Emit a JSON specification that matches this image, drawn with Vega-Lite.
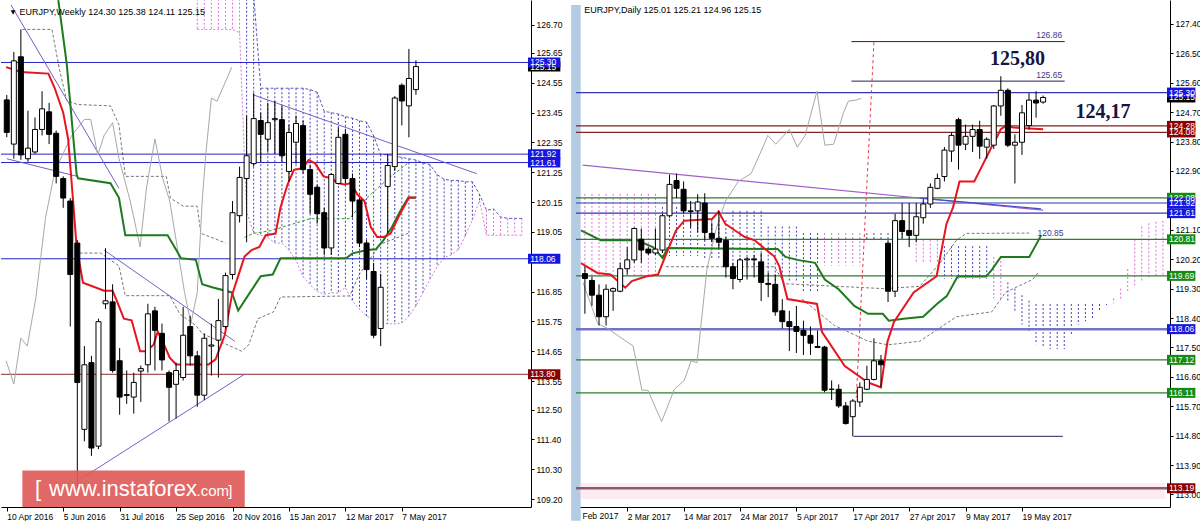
{
"$schema":"https://vega.github.io/schema/vega-lite/v6.json",
"background":"white","padding":0,"bounds":"flush","spacing":45,
"config":{"view":{"stroke":null},
"axis":{"labelFont":"Liberation Sans","labelFontSize":8.5,"labelColor":"#000","domainColor":"#000","tickColor":"#000","grid":false},
"axisX":{"tickSize":4,"labelAlign":"left","labelPadding":1,"labelOverlap":false,"labelFlush":false},
"axisY":{"tickSize":3,"labelPadding":2,"labelOverlap":false,"labelFlush":false}},
"datasets":{
"wk":[{"t":0,"o":123.92,"h":124.10,"l":122.54,"c":122.72},{"t":1,"o":122.29,"h":125.69,"l":121.75,"c":125.36},{"t":2,"o":125.51,"h":126.52,"l":121.71,"c":121.89},{"t":3,"o":121.75,"h":123.52,"l":121.64,"c":122.14},{"t":4,"o":122.00,"h":123.27,"l":121.93,"c":122.83},{"t":5,"o":122.83,"h":124.24,"l":122.61,"c":123.59},{"t":6,"o":123.48,"h":123.81,"l":122.29,"c":122.65},{"t":7,"o":122.69,"h":122.79,"l":120.84,"c":121.10},{"t":8,"o":121.02,"h":121.10,"l":119.94,"c":120.30},{"t":9,"o":120.19,"h":120.30,"l":115.56,"c":117.48},{"t":10,"o":118.64,"h":118.75,"l":109.60,"c":113.50},{"t":11,"o":111.77,"h":114.84,"l":111.33,"c":114.15},{"t":12,"o":114.23,"h":114.48,"l":110.79,"c":111.08},{"t":13,"o":111.15,"h":115.85,"l":111.04,"c":115.74},{"t":14,"o":116.40,"h":118.45,"l":116.21,"c":116.51},{"t":15,"o":116.47,"h":117.12,"l":113.86,"c":113.94},{"t":16,"o":114.30,"h":114.77,"l":112.31,"c":112.96},{"t":17,"o":113.05,"h":113.94,"l":112.71,"c":113.02},{"t":18,"o":112.96,"h":113.86,"l":112.35,"c":113.50},{"t":19,"o":113.92,"h":114.12,"l":112.78,"c":114.01},{"t":20,"o":114.15,"h":116.40,"l":113.86,"c":116.03},{"t":21,"o":116.14,"h":116.29,"l":113.94,"c":115.42},{"t":22,"o":115.31,"h":115.67,"l":113.94,"c":114.33},{"t":23,"o":113.86,"h":113.94,"l":112.06,"c":113.32},{"t":24,"o":113.43,"h":114.23,"l":112.17,"c":113.94},{"t":25,"o":113.68,"h":116.29,"l":113.57,"c":115.24},{"t":26,"o":115.56,"h":115.96,"l":114.12,"c":114.48},{"t":27,"o":114.48,"h":114.66,"l":112.60,"c":113.03},{"t":28,"o":113.03,"h":115.31,"l":112.85,"c":115.13},{"t":29,"o":114.84,"h":115.67,"l":113.75,"c":114.88},{"t":30,"o":115.06,"h":116.58,"l":113.68,"c":115.78},{"t":31,"o":115.56,"h":117.55,"l":115.49,"c":117.44},{"t":32,"o":117.48,"h":120.19,"l":117.30,"c":119.76},{"t":33,"o":119.65,"h":121.46,"l":119.40,"c":121.06},{"t":34,"o":121.02,"h":123.34,"l":118.67,"c":121.86},{"t":35,"o":121.57,"h":124.17,"l":121.46,"c":123.23},{"t":36,"o":123.16,"h":123.45,"l":121.64,"c":122.65},{"t":37,"o":122.47,"h":123.81,"l":122.00,"c":123.08},{"t":38,"o":123.19,"h":123.88,"l":121.93,"c":123.23},{"t":39,"o":123.19,"h":123.70,"l":121.64,"c":121.86},{"t":40,"o":121.28,"h":123.01,"l":120.91,"c":122.72},{"t":41,"o":122.36,"h":123.34,"l":121.57,"c":123.05},{"t":42,"o":122.97,"h":123.16,"l":121.20,"c":121.35},{"t":43,"o":121.35,"h":121.53,"l":119.72,"c":120.44},{"t":44,"o":120.70,"h":120.80,"l":119.36,"c":119.72},{"t":45,"o":119.76,"h":119.94,"l":118.20,"c":118.46},{"t":46,"o":118.46,"h":121.21,"l":118.20,"c":121.17},{"t":47,"o":120.84,"h":122.90,"l":120.80,"c":122.54},{"t":48,"o":122.65,"h":122.83,"l":120.84,"c":121.02},{"t":49,"o":121.02,"h":121.21,"l":119.58,"c":120.19},{"t":50,"o":120.23,"h":120.30,"l":118.49,"c":118.64},{"t":51,"o":118.64,"h":118.75,"l":117.30,"c":117.66},{"t":52,"o":117.59,"h":117.91,"l":115.13,"c":115.24},{"t":53,"o":115.49,"h":117.50,"l":114.84,"c":117.01},{"t":54,"o":120.73,"h":121.93,"l":119.00,"c":121.50},{"t":55,"o":121.46,"h":124.06,"l":121.30,"c":123.99},{"t":56,"o":124.46,"h":124.53,"l":122.98,"c":123.88},{"t":57,"o":123.70,"h":125.80,"l":122.54,"c":124.71},{"t":58,"o":124.30,"h":125.38,"l":124.11,"c":125.15}],
"wten":[{"t":-0.1,"v":125.13},{"t":2,"v":124.95},{"t":5.9,"v":124.89},{"t":6.8,"v":124.35},{"t":8,"v":123.45},{"t":8.7,"v":122.48},{"t":9.4,"v":120.19},{"t":9.9,"v":118.50},{"t":10.8,"v":117.18},{"t":13.8,"v":116.88},{"t":15,"v":116.88},{"t":15.6,"v":116.51},{"t":16.6,"v":115.85},{"t":17.7,"v":115.79},{"t":18.9,"v":114.65},{"t":19.8,"v":114.65},{"t":20.8,"v":114.89},{"t":21.4,"v":115.37},{"t":22.1,"v":115.01},{"t":23.1,"v":114.41},{"t":24,"v":114.16},{"t":28.6,"v":114.16},{"t":29.6,"v":114.35},{"t":30.9,"v":115.25},{"t":31.9,"v":116.70},{"t":32.8,"v":117.42},{"t":33.7,"v":118.14},{"t":34.7,"v":118.38},{"t":35.8,"v":118.50},{"t":36.7,"v":118.93},{"t":38.1,"v":118.99},{"t":38.8,"v":119.95},{"t":39.8,"v":120.80},{"t":40.7,"v":121.34},{"t":41.9,"v":121.40},{"t":42.8,"v":121.70},{"t":43.7,"v":121.58},{"t":44.9,"v":121.10},{"t":46.0,"v":121.03},{"t":46.9,"v":120.85},{"t":47.9,"v":120.80},{"t":48.8,"v":120.85},{"t":49.7,"v":120.43},{"t":50.7,"v":120.19},{"t":51.6,"v":119.23},{"t":52.5,"v":118.86},{"t":53.4,"v":118.86},{"t":54.4,"v":118.99},{"t":55.5,"v":119.59},{"t":57,"v":120.32},{"t":58,"v":120.32}],
"wkij":[{"t":7.3,"v":127.6},{"t":8.5,"v":125.25},{"t":9.2,"v":123.19},{"t":9.9,"v":121.17},{"t":10.1,"v":121.03},{"t":14.7,"v":120.85},{"t":15.9,"v":120.31},{"t":16.8,"v":118.93},{"t":22.8,"v":118.93},{"t":24.7,"v":118.08},{"t":26.8,"v":118.02},{"t":27.7,"v":117.12},{"t":29.1,"v":117.01},{"t":31.9,"v":116.82},{"t":32.8,"v":116.15},{"t":36.0,"v":117.42},{"t":37.7,"v":117.48},{"t":38.8,"v":118.08},{"t":48.1,"v":118.08},{"t":49.0,"v":118.26},{"t":51.1,"v":118.38},{"t":52.3,"v":118.41},{"t":53.4,"v":118.75},{"t":54.6,"v":119.23},{"t":55.8,"v":119.83},{"t":56.9,"v":120.31},{"t":58,"v":120.31}],
"wchi":[{"t":-0.1,"v":114.30},{"t":1.0,"v":113.44},{"t":2.0,"v":115.13},{"t":2.9,"v":114.84},{"t":4.1,"v":116.58},{"t":5.5,"v":119.58},{"t":6.8,"v":121.28},{"t":9.2,"v":122.61},{"t":11.0,"v":123.20},{"t":11.9,"v":123.20},{"t":12.9,"v":121.89},{"t":13.8,"v":122.61},{"t":15.0,"v":123.08},{"t":15.9,"v":121.76},{"t":17.5,"v":120.19},{"t":18.9,"v":118.50},{"t":19.8,"v":120.67},{"t":21.0,"v":122.48},{"t":22.1,"v":121.03},{"t":23.1,"v":120.19},{"t":24.0,"v":118.75},{"t":25.2,"v":116.82},{"t":26.1,"v":115.67},{"t":27.0,"v":116.82},{"t":27.7,"v":120.19},{"t":28.2,"v":121.88},{"t":29.0,"v":123.99},{"t":29.8,"v":123.87},{"t":31.9,"v":125.13}],
"wdash":[{"t":2.2,"v":126.52,"s":"a"},{"t":6.4,"v":126.52,"s":"a"},{"t":7.5,"v":125.0,"s":"a"},{"t":8.5,"v":123.9,"s":"a"},{"t":10.0,"v":123.75,"s":"a"},{"t":14.7,"v":123.7,"s":"a"},{"t":15.9,"v":123.0,"s":"a"},{"t":16.8,"v":121.1,"s":"a"},{"t":22.6,"v":121.1,"s":"a"},{"t":23.2,"v":120.3,"s":"a"},{"t":25,"v":120.0,"s":"a"},{"t":27,"v":120.0,"s":"a"},{"t":27.5,"v":119.0,"s":"a"},{"t":29.5,"v":118.8,"s":"a"},{"t":31,"v":118.64,"s":"a"},
{"t":10.3,"v":118.27,"s":"b"},{"t":13.3,"v":118.27,"s":"b"},{"t":15.9,"v":117.8,"s":"b"},{"t":16.8,"v":116.7,"s":"b"},{"t":23.1,"v":116.7,"s":"b"},{"t":24.5,"v":116.03,"s":"b"},{"t":26.8,"v":115.6,"s":"b"},{"t":27.7,"v":115.3,"s":"b"},{"t":32.3,"v":114.77,"s":"b"},{"t":33.3,"v":114.65,"s":"b"},{"t":34.3,"v":114.89,"s":"b"},{"t":35.6,"v":115.85,"s":"b"},{"t":37.8,"v":116.1,"s":"b"},{"t":38.8,"v":116.65,"s":"b"},{"t":48.6,"v":116.69,"s":"b"},{"t":50,"v":117.5,"s":"b"},{"t":53,"v":118.6,"s":"b"},{"t":56.9,"v":119.0,"s":"b"},
{"t":33.7,"v":118.85,"s":"g"},{"t":35,"v":119.0,"s":"g"},{"t":37.5,"v":119.1,"s":"g"},{"t":43,"v":119.54,"s":"g"},{"t":48.6,"v":119.54,"s":"g"},{"t":51,"v":120.3,"s":"g"},{"t":54,"v":121.0,"s":"g"},{"t":56.9,"v":121.6,"s":"g"}],
"wcl":[{"t":27,"u":127.8,"lo":126.52,"k":"bear"},{"t":28,"u":127.8,"lo":126.52,"k":"bear"},{"t":29,"u":127.8,"lo":126.52,"k":"bear"},{"t":30,"u":127.8,"lo":126.52,"k":"bear"},{"t":31,"u":127.8,"lo":126.52,"k":"bear"},{"t":32,"u":127.8,"lo":126.52,"k":"bear"},{"t":33,"u":127.8,"lo":126.40,"k":"bear"},{"t":34,"u":127.8,"lo":119.8,"k":"bull"},{"t":35,"u":127.8,"lo":119.0,"k":"bull"},{"t":36,"u":124.35,"lo":118.93,"k":"bull"},{"t":37,"u":124.35,"lo":118.85,"k":"bull"},{"t":38,"u":124.35,"lo":118.64,"k":"bull"},{"t":39,"u":124.35,"lo":118.64,"k":"bull"},{"t":40,"u":124.35,"lo":118.38,"k":"bull"},{"t":41,"u":124.35,"lo":118.0,"k":"bull"},{"t":42,"u":124.35,"lo":117.4,"k":"bull"},{"t":43,"u":124.3,"lo":117.1,"k":"bull"},{"t":44,"u":124.2,"lo":116.85,"k":"bull"},{"t":45,"u":123.5,"lo":116.75,"k":"bull"},{"t":46,"u":123.45,"lo":116.8,"k":"bull"},{"t":47,"u":123.4,"lo":116.8,"k":"bull"},{"t":48,"u":123.3,"lo":117.0,"k":"bull"},{"t":49,"u":123.25,"lo":116.5,"k":"bull"},{"t":50,"u":123.15,"lo":116.2,"k":"bull"},{"t":51,"u":123.1,"lo":115.95,"k":"bull"},{"t":52,"u":122.6,"lo":115.8,"k":"bull"},{"t":53,"u":121.9,"lo":115.7,"k":"bull"},{"t":54,"u":121.9,"lo":115.66,"k":"bull"},{"t":55,"u":121.85,"lo":115.66,"k":"bull"},{"t":56,"u":121.8,"lo":115.7,"k":"bull"},{"t":57,"u":121.75,"lo":115.95,"k":"bull"},{"t":58,"u":121.7,"lo":116.32,"k":"bull"},{"t":59,"u":121.6,"lo":116.82,"k":"bull"},{"t":60,"u":121.53,"lo":117.3,"k":"bull"},{"t":61,"u":121.17,"lo":117.77,"k":"bull"},{"t":62,"u":120.99,"lo":118.1,"k":"bull"},{"t":63,"u":120.95,"lo":118.2,"k":"bull"},{"t":64,"u":120.95,"lo":118.4,"k":"bull"},{"t":65,"u":120.9,"lo":118.9,"k":"bull"},{"t":66,"u":120.9,"lo":119.5,"k":"bull"},{"t":67,"u":120.44,"lo":120.2,"k":"bull"},{"t":68,"u":119.85,"lo":118.93,"k":"bear"},{"t":69,"u":119.9,"lo":118.93,"k":"bear"},{"t":70,"u":119.6,"lo":118.93,"k":"bear"},{"t":71,"u":119.55,"lo":118.93,"k":"bear"},{"t":72,"u":119.55,"lo":118.93,"k":"bear"},{"t":73,"u":119.55,"lo":118.93,"k":"bear"}],
"wlev":[{"v":125.30,"k":"blue"},{"v":121.92,"k":"blue"},{"v":121.61,"k":"blue"},{"v":118.06,"k":"blue"},{"v":113.80,"k":"maroon"}],
"wtr":[{"t1":0.6,"v1":127.42,"t2":15.9,"v2":120.66},{"t1":0,"v1":121.75,"t2":10.0,"v2":121.10},{"t1":13.8,"v1":118.38,"t2":32.3,"v2":115.02},{"t1":10.6,"v1":109.96,"t2":33.7,"v2":113.80},{"t1":34.9,"v1":124.11,"t2":66.6,"v2":121.20}],
"wlab":[{"v":125.15,"s":"125.15","k":"black"},{"v":125.30,"s":"125.30","k":"blue"},{"v":121.92,"s":"121.92","k":"blue"},{"v":121.61,"s":"121.61","k":"blue"},{"v":118.06,"s":"118.06","k":"blue"},{"v":113.80,"s":"113.80","k":"maroon"}],
"wtitle":[{"t":1.8,"v":127.17,"s":"EURJPY,Weekly  124.30 125.38 124.11 125.15"}],
"wmark":[{"t":0.55,"v":127.17,"s":"▼"}],
"logoBig":[{"t":4.0,"v":109.31,"s":"["},{"t":6.0,"v":109.31,"s":"www.instaforex"}],
"logoSmall":[{"t":26.9,"v":109.31,"s":".com"},{"t":31.4,"v":109.31,"s":"]"}],
"dk":[{"t":-6,"o":119.76,"h":119.97,"l":118.53,"c":119.61},{"t":-5,"o":119.55,"h":119.67,"l":118.77,"c":119.10},{"t":-4,"o":119.10,"h":119.43,"l":118.17,"c":118.44},{"t":-3,"o":118.44,"h":119.43,"l":118.17,"c":119.28},{"t":-2,"o":119.22,"h":119.34,"l":118.62,"c":119.30},{"t":-1,"o":119.22,"h":120.09,"l":119.19,"c":119.91},{"t":0,"o":119.91,"h":120.57,"l":119.73,"c":120.18},{"t":1,"o":120.18,"h":121.17,"l":120.09,"c":121.14},{"t":2,"o":120.81,"h":121.14,"l":120.09,"c":120.48},{"t":3,"o":120.51,"h":120.57,"l":120.33,"c":120.39},{"t":4,"o":120.39,"h":121.14,"l":120.33,"c":120.51},{"t":5,"o":120.48,"h":121.59,"l":120.39,"c":121.53},{"t":6,"o":121.53,"h":122.79,"l":121.47,"c":122.49},{"t":7,"o":122.61,"h":122.82,"l":122.07,"c":122.37},{"t":8,"o":122.34,"h":122.58,"l":121.59,"c":121.68},{"t":9,"o":121.68,"h":121.98,"l":121.17,"c":121.66},{"t":10,"o":121.68,"h":122.19,"l":121.02,"c":121.95},{"t":11,"o":121.92,"h":122.22,"l":120.78,"c":121.02},{"t":12,"o":120.99,"h":121.32,"l":120.72,"c":120.84},{"t":13,"o":120.84,"h":121.68,"l":120.54,"c":120.72},{"t":14,"o":120.78,"h":120.87,"l":119.64,"c":119.97},{"t":15,"o":119.97,"h":120.09,"l":119.28,"c":119.61},{"t":16,"o":119.58,"h":120.24,"l":119.49,"c":120.18},{"t":17,"o":120.18,"h":120.27,"l":119.58,"c":120.21},{"t":18,"o":120.21,"h":120.33,"l":119.64,"c":120.18},{"t":19,"o":120.12,"h":120.39,"l":118.92,"c":119.49},{"t":20,"o":119.46,"h":119.79,"l":119.04,"c":119.43},{"t":21,"o":119.43,"h":119.73,"l":118.47,"c":118.59},{"t":22,"o":118.62,"h":118.98,"l":118.08,"c":118.29},{"t":23,"o":118.29,"h":118.62,"l":117.39,"c":118.14},{"t":24,"o":118.14,"h":118.77,"l":117.33,"c":117.99},{"t":25,"o":118.02,"h":118.32,"l":117.27,"c":117.87},{"t":26,"o":117.87,"h":118.14,"l":117.27,"c":117.63},{"t":27,"o":117.53,"h":118.02,"l":117.48,"c":117.50},{"t":28,"o":117.51,"h":117.55,"l":116.13,"c":116.19},{"t":29,"o":116.22,"h":116.49,"l":115.89,"c":116.22},{"t":30,"o":116.22,"h":116.37,"l":115.65,"c":115.71},{"t":31,"o":115.71,"h":115.83,"l":115.14,"c":115.17},{"t":32,"o":115.38,"h":115.92,"l":114.78,"c":115.86},{"t":33,"o":115.83,"h":116.43,"l":115.68,"c":116.28},{"t":34,"o":116.22,"h":116.94,"l":116.19,"c":116.52},{"t":35,"o":116.52,"h":117.78,"l":116.49,"c":117.09},{"t":36,"o":117.09,"h":117.27,"l":116.28,"c":116.97},{"t":37,"o":120.69,"h":120.78,"l":118.89,"c":119.22},{"t":38,"o":119.22,"h":121.59,"l":119.04,"c":121.38},{"t":39,"o":121.38,"h":121.92,"l":120.84,"c":121.05},{"t":40,"o":121.08,"h":121.92,"l":120.57,"c":120.93},{"t":41,"o":120.93,"h":121.92,"l":120.72,"c":121.50},{"t":42,"o":121.47,"h":122.04,"l":121.29,"c":121.89},{"t":43,"o":121.89,"h":122.52,"l":121.77,"c":122.40},{"t":44,"o":122.37,"h":122.82,"l":122.34,"c":122.67},{"t":45,"o":122.73,"h":123.63,"l":122.58,"c":123.54},{"t":46,"o":123.51,"h":124.08,"l":123.18,"c":123.99},{"t":47,"o":124.47,"h":124.53,"l":122.94,"c":123.69},{"t":48,"o":123.72,"h":124.32,"l":123.54,"c":123.96},{"t":49,"o":123.96,"h":124.32,"l":123.48,"c":124.17},{"t":50,"o":124.17,"h":124.44,"l":123.27,"c":123.66},{"t":51,"o":123.63,"h":123.93,"l":123.27,"c":123.87},{"t":52,"o":123.69,"h":124.92,"l":123.57,"c":124.89},{"t":53,"o":124.89,"h":125.80,"l":124.59,"c":125.37},{"t":54,"o":125.37,"h":125.43,"l":123.63,"c":123.69},{"t":55,"o":123.69,"h":124.02,"l":122.52,"c":123.78},{"t":56,"o":123.78,"h":124.92,"l":123.39,"c":124.68},{"t":57,"o":124.29,"h":125.28,"l":124.17,"c":125.07},{"t":58,"o":125.07,"h":125.34,"l":124.53,"c":124.98},{"t":59,"o":125.01,"h":125.21,"l":124.96,"c":125.15}],
"dten":[{"t":-6.56,"v":120.08},{"t":-4.23,"v":119.78},{"t":-2.37,"v":119.73},{"t":-0.28,"v":119.33},{"t":0.66,"v":119.53},{"t":2.75,"v":119.68},{"t":4.37,"v":119.73},{"t":5.76,"v":120.48},{"t":6.93,"v":121.08},{"t":8.09,"v":121.38},{"t":12.04,"v":121.43},{"t":12.97,"v":121.66},{"t":13.91,"v":121.28},{"t":15.3,"v":121.08},{"t":16.69,"v":120.88},{"t":18.09,"v":120.78},{"t":19.48,"v":120.53},{"t":20.88,"v":120.28},{"t":21.58,"v":119.98},{"t":22.73,"v":118.98},{"t":26.92,"v":118.83},{"t":27.62,"v":117.98},{"t":30.86,"v":116.93},{"t":34.13,"v":116.43},{"t":35.98,"v":116.28},{"t":36.92,"v":117.68},{"t":37.84,"v":118.28},{"t":40.63,"v":119.18},{"t":43.89,"v":119.68},{"t":45.29,"v":121.28},{"t":46.21,"v":121.78},{"t":47.14,"v":122.58},{"t":49.23,"v":122.58},{"t":50.17,"v":122.98},{"t":51.79,"v":123.68},{"t":52.1,"v":123.78},{"t":53.0,"v":124.18},{"t":53.7,"v":124.28},{"t":54.8,"v":124.23},{"t":59.0,"v":124.18}],
"dkij":[{"t":-6.56,"v":121.08},{"t":-3.77,"v":120.78},{"t":1.39,"v":120.78},{"t":3.63,"v":120.57},{"t":5.02,"v":120.24},{"t":5.72,"v":120.54},{"t":21.34,"v":120.51},{"t":22.45,"v":120.27},{"t":24.13,"v":120.18},{"t":26.64,"v":120.09},{"t":28.03,"v":119.58},{"t":29.99,"v":119.28},{"t":32.22,"v":118.77},{"t":34.17,"v":118.53},{"t":36.26,"v":118.53},{"t":37.1,"v":118.32},{"t":39.19,"v":118.38},{"t":41.98,"v":118.44},{"t":43.93,"v":118.83},{"t":45.33,"v":119.07},{"t":46.86,"v":119.67},{"t":50.91,"v":119.67},{"t":51.74,"v":119.88},{"t":53.0,"v":120.27},{"t":57.04,"v":120.27},{"t":58.72,"v":120.93}],
"dchi":[{"t":-6.28,"v":119.49},{"t":-4.18,"v":118.23},{"t":-2.79,"v":118.08},{"t":0.84,"v":117.54},{"t":2.09,"v":116.19},{"t":2.93,"v":116.19},{"t":4.88,"v":115.23},{"t":6.69,"v":116.22},{"t":8.09,"v":116.49},{"t":9.07,"v":117.09},{"t":9.9,"v":117.03},{"t":11.3,"v":119.88},{"t":12.55,"v":121.08},{"t":13.95,"v":121.98},{"t":15.76,"v":122.58},{"t":17.57,"v":122.82},{"t":19.25,"v":123.63},{"t":19.94,"v":123.99},{"t":21.06,"v":123.72},{"t":23.01,"v":124.17},{"t":24.13,"v":123.63},{"t":25.24,"v":123.99},{"t":26.92,"v":125.34},{"t":28.03,"v":123.69},{"t":29.29,"v":123.72},{"t":30.68,"v":124.68},{"t":31.38,"v":125.04},{"t":32.5,"v":125.07},{"t":33.19,"v":125.13}],
"ddash":[{"t":5.5,"v":119.97,"s":"a"},{"t":20.9,"v":119.97,"s":"a"},{"t":22.3,"v":119.45,"s":"a"},{"t":36.4,"v":119.3,"s":"a"},{"t":41.5,"v":119.37,"s":"a"},{"t":44.4,"v":120.09,"s":"a"},{"t":46.7,"v":120.78,"s":"a"},{"t":48.1,"v":120.99,"s":"a"},{"t":57,"v":121.0,"s":"a"},
{"t":24.8,"v":118.98,"s":"b"},{"t":29.4,"v":118.17,"s":"b"},{"t":34.2,"v":117.69,"s":"b"},{"t":37,"v":117.58,"s":"b"},{"t":41.5,"v":117.69,"s":"b"},{"t":46.7,"v":118.44,"s":"b"},{"t":51.7,"v":118.59,"s":"b"},{"t":53.7,"v":119.19,"s":"b"},{"t":57.5,"v":119.58,"s":"b"},{"t":58.3,"v":119.79,"s":"b"}],
"dcl":[{"t":-6,"u":122.2,"lo":119.7,"k":"bear"},{"t":-5,"u":122.2,"lo":119.7,"k":"bear"},{"t":-4,"u":122.2,"lo":119.7,"k":"bear"},{"t":-3,"u":122.2,"lo":119.7,"k":"bear"},{"t":-2,"u":122.2,"lo":119.7,"k":"bear"},{"t":-1,"u":122.2,"lo":119.7,"k":"bear"},{"t":0,"u":122.2,"lo":119.7,"k":"bear"},{"t":1,"u":122.2,"lo":119.7,"k":"bear"},{"t":2,"u":122.2,"lo":119.7,"k":"bear"},{"t":3,"u":122.2,"lo":119.7,"k":"bear"},{"t":4,"u":122.2,"lo":119.7,"k":"bear"},{"t":5,"u":121.8,"lo":120.3,"k":"bull"},{"t":6,"u":121.8,"lo":120.3,"k":"bull"},{"t":7,"u":121.8,"lo":120.3,"k":"bull"},{"t":8,"u":121.8,"lo":120.3,"k":"bull"},{"t":9,"u":121.8,"lo":120.3,"k":"bull"},{"t":10,"u":121.8,"lo":120.3,"k":"bull"},{"t":11,"u":121.4,"lo":120.2,"k":"bull"},{"t":12,"u":121.4,"lo":120.2,"k":"bull"},{"t":13,"u":121.4,"lo":120.2,"k":"bull"},{"t":14,"u":121.4,"lo":120.2,"k":"bull"},{"t":15,"u":121.68,"lo":120.0,"k":"bull"},{"t":16,"u":121.68,"lo":120.0,"k":"bull"},{"t":17,"u":121.68,"lo":120.0,"k":"bull"},{"t":18,"u":121.68,"lo":120.0,"k":"bull"},{"t":19,"u":121.68,"lo":120.0,"k":"bull"},{"t":20,"u":121.2,"lo":119.5,"k":"bull"},{"t":21,"u":121.2,"lo":119.5,"k":"bull"},{"t":22,"u":121.2,"lo":119.5,"k":"bull"},{"t":23,"u":121.2,"lo":119.5,"k":"bull"},{"t":24,"u":121.2,"lo":119.5,"k":"bull"},{"t":25,"u":121.0,"lo":119.2,"k":"bull"},{"t":26,"u":121.0,"lo":119.2,"k":"bull"},{"t":27,"u":121.0,"lo":119.2,"k":"bull"},{"t":28,"u":121.0,"lo":120.0,"k":"bear"},{"t":29,"u":121.0,"lo":120.0,"k":"bear"},{"t":30,"u":121.0,"lo":120.0,"k":"bear"},{"t":31,"u":121.0,"lo":120.0,"k":"bear"},{"t":32,"u":121.0,"lo":120.0,"k":"bear"},{"t":33,"u":121.0,"lo":120.0,"k":"bear"},{"t":34,"u":121.0,"lo":120.75,"k":"bull"},{"t":35,"u":121.0,"lo":120.75,"k":"bull"},{"t":36,"u":121.0,"lo":120.75,"k":"bull"},{"t":37,"u":121.0,"lo":120.75,"k":"bull"},{"t":38,"u":121.0,"lo":120.75,"k":"bull"},{"t":39,"u":121.0,"lo":120.75,"k":"bull"},{"t":40,"u":121.0,"lo":120.75,"k":"bull"},{"t":41,"u":120.8,"lo":120.1,"k":"bear"},{"t":42,"u":120.8,"lo":120.1,"k":"bear"},{"t":43,"u":120.8,"lo":120.1,"k":"bear"},{"t":44,"u":120.8,"lo":120.1,"k":"bear"},{"t":45,"u":120.6,"lo":119.6,"k":"bull"},{"t":46,"u":120.6,"lo":119.6,"k":"bull"},{"t":47,"u":120.6,"lo":119.6,"k":"bull"},{"t":48,"u":120.6,"lo":119.6,"k":"bull"},{"t":49,"u":120.6,"lo":119.6,"k":"bull"},{"t":50,"u":120.6,"lo":119.6,"k":"bull"},{"t":51,"u":120.6,"lo":119.6,"k":"bull"},{"t":52,"u":120.27,"lo":119.0,"k":"bear"},{"t":53,"u":120.27,"lo":119.0,"k":"bear"},{"t":54,"u":119.49,"lo":118.9,"k":"bull"},{"t":55,"u":119.3,"lo":118.6,"k":"bull"},{"t":56,"u":119.1,"lo":118.2,"k":"bull"},{"t":57,"u":118.93,"lo":118.0,"k":"bull"},{"t":58,"u":118.83,"lo":117.6,"k":"bull"},{"t":59,"u":118.83,"lo":117.5,"k":"bull"},{"t":60,"u":118.83,"lo":117.45,"k":"bull"},{"t":61,"u":118.83,"lo":117.45,"k":"bull"},{"t":62,"u":118.83,"lo":117.45,"k":"bull"},{"t":63,"u":118.83,"lo":117.9,"k":"bull"},{"t":64,"u":118.83,"lo":118.2,"k":"bull"},{"t":65,"u":118.83,"lo":118.3,"k":"bull"},{"t":66,"u":118.83,"lo":118.35,"k":"bull"},{"t":67,"u":118.83,"lo":118.6,"k":"bull"},{"t":68,"u":118.83,"lo":118.8,"k":"bull"},{"t":69,"u":119.0,"lo":118.85,"k":"bear"},{"t":70,"u":119.3,"lo":118.95,"k":"bear"},{"t":71,"u":119.9,"lo":119.2,"k":"bear"},{"t":72,"u":120.8,"lo":119.4,"k":"bear"},{"t":73,"u":121.2,"lo":119.55,"k":"bear"},{"t":74,"u":121.3,"lo":119.65,"k":"bear"},{"t":75,"u":121.35,"lo":119.67,"k":"bear"},{"t":76,"u":121.38,"lo":119.69,"k":"bear"}],
"dlev":[{"v":125.30,"k":"blue"},{"v":124.28,"k":"maroon"},{"v":124.08,"k":"maroon"},{"v":122.08,"k":"green"},{"v":121.92,"k":"blue"},{"v":121.61,"k":"blue"},{"v":120.81,"k":"green"},{"v":119.69,"k":"green"},{"v":118.06,"k":"lav"},{"v":117.12,"k":"green"},{"v":116.11,"k":"green"},{"v":113.19,"k":"mthick"}],
"dseg":[{"t1":31.8,"t2":62.06,"v":126.86},{"t1":31.8,"t2":62.06,"v":125.65},{"t1":32.1,"t2":61.8,"v":114.78}],
"dtr":[{"t1":-6.32,"v1":123.08,"t2":59.0,"v2":121.70,"k":"purple"},{"t1":41.6,"v1":122.07,"t2":58.7,"v2":121.74,"k":"blue"}],
"dred":[{"t1":35.0,"v1":126.84,"t2":32.5,"v2":115.98}],
"dsmall":[{"t":61.7,"v":127.05,"s":"126.86"},{"t":61.7,"v":125.85,"s":"125.65"},{"t":61.9,"v":120.99,"s":"120.85"}],
"dbig":[{"t":55.37,"v":126.33,"s":"125,80"},{"t":67.5,"v":124.71,"s":"124,17"}],
"dlab":[{"v":125.15,"s":"125.15","k":"black"},{"v":125.30,"s":"125.30","k":"blue"},{"v":124.08,"s":"124.08","k":"maroon"},{"v":124.28,"s":"124.28","k":"maroon"},{"v":122.08,"s":"122.08","k":"green"},{"v":121.92,"s":"121.92","k":"blue"},{"v":121.61,"s":"121.61","k":"blue"},{"v":120.81,"s":"120.81","k":"green"},{"v":119.69,"s":"119.69","k":"green"},{"v":118.06,"s":"118.06","k":"blue"},{"v":117.12,"s":"117.12","k":"green"},{"v":116.11,"s":"116.11","k":"green"},{"v":113.19,"s":"113.19","k":"maroon"}],
"dtitle":[{"t":-6.1,"v":127.83,"s":"EURJPY,Daily  125.01 125.21 124.96 125.15"}],
"dfeb":[{"t":-6.35,"v":112.35,"s":"Feb 2017"}]
},
"hconcat":[
{"width":530,"height":507,
"resolve":{"axis":{"x":"independent","y":"independent"}},
"layer":[
{"data":{"name":"wcl"},"mark":{"type":"rule","clip":true,"strokeDash":[2,2],"strokeWidth":1},
"encoding":{"x":{"field":"t","type":"quantitative","scale":{"domain":[-0.11,73.6],"nice":false,"zero":false},"axis":{"orient":"bottom","title":null,"values":[0,8,16,24,32,40,48,56],"labelExpr":"['10 Apr 2016','5 Jun 2016','31 Jul 2016','25 Sep 2016','20 Nov 2016','15 Jan 2017','12 Mar 2017','7 May 2017'][round(datum.value/8)]"}},
"y":{"field":"u","type":"quantitative","scale":{"domain":[109.09,127.42],"nice":false,"zero":false},"axis":{"orient":"right","title":null,"values":[126.70,125.65,124.55,123.45,122.35,121.25,120.15,119.05,116.85,115.75,114.65,113.55,112.50,111.40,110.30,109.20],"format":".2f"}},
"y2":{"field":"lo"},
"color":{"condition":{"test":"datum.k==='bull'","value":"#4343b8"},"value":"#dc6edc"}}},
{"data":{"name":"wcl"},"mark":{"type":"line","clip":true,"strokeDash":[3,2],"strokeWidth":1,"color":"#5a5ac0"},
"encoding":{"x":{"field":"t","type":"quantitative","scale":{"domain":[-0.11,73.6],"nice":false,"zero":false},"axis":null},"y":{"field":"u","type":"quantitative","scale":{"domain":[109.09,127.42],"nice":false,"zero":false},"axis":null}}},
{"data":{"name":"wcl"},"mark":{"type":"line","clip":true,"strokeDash":[2,2],"strokeWidth":1,"color":"#d47ad4"},
"encoding":{"x":{"field":"t","type":"quantitative","scale":{"domain":[-0.11,73.6],"nice":false,"zero":false},"axis":null},"y":{"field":"lo","type":"quantitative","scale":{"domain":[109.09,127.42],"nice":false,"zero":false},"axis":null}}},
{"data":{"name":"wdash"},"mark":{"type":"line","clip":true,"strokeDash":[3,2],"strokeWidth":1},
"encoding":{"x":{"field":"t","type":"quantitative","scale":{"domain":[-0.11,73.6],"nice":false,"zero":false},"axis":null},"y":{"field":"v","type":"quantitative","scale":{"domain":[109.09,127.42],"nice":false,"zero":false},"axis":null},"detail":{"field":"s"},
"color":{"condition":{"test":"datum.s==='g'","value":"#3c9a3c"},"value":"#777777"}}},
{"data":{"name":"wlev"},"mark":{"type":"rule","strokeWidth":1},
"encoding":{"y":{"field":"v","type":"quantitative","scale":{"domain":[109.09,127.42],"nice":false,"zero":false},"axis":null},
"color":{"condition":{"test":"datum.k==='maroon'","value":"#8b2a2a"},"value":"#2424c8"}}},
{"data":{"name":"wtr"},"mark":{"type":"rule","clip":true,"strokeWidth":1,"color":"#7a5cc8"},
"encoding":{"x":{"field":"t1","type":"quantitative","scale":{"domain":[-0.11,73.6],"nice":false,"zero":false},"axis":null},"x2":{"field":"t2"},"y":{"field":"v1","type":"quantitative","scale":{"domain":[109.09,127.42],"nice":false,"zero":false},"axis":null},"y2":{"field":"v2"}}},
{"data":{"name":"wchi"},"mark":{"type":"line","clip":true,"strokeWidth":1,"color":"#a8a8a8"},
"encoding":{"x":{"field":"t","type":"quantitative","scale":{"domain":[-0.11,73.6],"nice":false,"zero":false},"axis":null},"y":{"field":"v","type":"quantitative","scale":{"domain":[109.09,127.42],"nice":false,"zero":false},"axis":null}}},
{"data":{"name":"wkij"},"mark":{"type":"line","clip":true,"strokeWidth":2,"color":"#1f7a1f"},
"encoding":{"x":{"field":"t","type":"quantitative","scale":{"domain":[-0.11,73.6],"nice":false,"zero":false},"axis":null},"y":{"field":"v","type":"quantitative","scale":{"domain":[109.09,127.42],"nice":false,"zero":false},"axis":null}}},
{"data":{"name":"wten"},"mark":{"type":"line","clip":true,"strokeWidth":2,"color":"#e8141e"},
"encoding":{"x":{"field":"t","type":"quantitative","scale":{"domain":[-0.11,73.6],"nice":false,"zero":false},"axis":null},"y":{"field":"v","type":"quantitative","scale":{"domain":[109.09,127.42],"nice":false,"zero":false},"axis":null}}},
{"data":{"name":"wk"},"mark":{"type":"rule","clip":true,"strokeWidth":1,"color":"#000000"},
"encoding":{"x":{"field":"t","type":"quantitative","scale":{"domain":[-0.11,73.6],"nice":false,"zero":false},"axis":null},"y":{"field":"l","type":"quantitative","scale":{"domain":[109.09,127.42],"nice":false,"zero":false},"axis":null},"y2":{"field":"h"}}},
{"data":{"name":"wk"},"mark":{"type":"bar","clip":true,"size":5,"stroke":"#000000","strokeWidth":1},
"encoding":{"x":{"field":"t","type":"quantitative","scale":{"domain":[-0.11,73.6],"nice":false,"zero":false},"axis":null},"y":{"field":"o","type":"quantitative","scale":{"domain":[109.09,127.42],"nice":false,"zero":false},"axis":null},"y2":{"field":"c"},
"fill":{"condition":{"test":"datum.c >= datum.o","value":"#ffffff"},"value":"#000000"}}},
{"data":{"name":"wlab"},"mark":{"type":"bar","orient":"horizontal","size":10},
"encoding":{"x":{"datum":73.88,"type":"quantitative","scale":{"domain":[-0.11,73.6],"nice":false,"zero":false},"axis":null},"x2":{"datum":78.47},"y":{"field":"v","type":"quantitative","scale":{"domain":[109.09,127.42],"nice":false,"zero":false},"axis":null},
"fill":{"condition":[{"test":"datum.k==='blue'","value":"#1616e0"},{"test":"datum.k==='maroon'","value":"#8b0000"}],"value":"#000000"}}},
{"data":{"name":"wlab"},"mark":{"type":"text","align":"left","baseline":"middle","font":"Liberation Sans","fontSize":8.5,"color":"#ffffff"},
"encoding":{"x":{"datum":74.2,"type":"quantitative","scale":{"domain":[-0.11,73.6],"nice":false,"zero":false},"axis":null},"y":{"field":"v","type":"quantitative","scale":{"domain":[109.09,127.42],"nice":false,"zero":false},"axis":null},"text":{"field":"s"}}},
{"data":{"name":"wtitle"},"mark":{"type":"text","align":"left","baseline":"middle","font":"Liberation Sans","fontSize":9,"color":"#000000"},
"encoding":{"x":{"field":"t","type":"quantitative","scale":{"domain":[-0.11,73.6],"nice":false,"zero":false},"axis":null},"y":{"field":"v","type":"quantitative","scale":{"domain":[109.09,127.42],"nice":false,"zero":false},"axis":null},"text":{"field":"s"}}},
{"data":{"name":"wmark"},"mark":{"type":"text","align":"left","baseline":"middle","font":"DejaVu Sans","fontSize":6,"color":"#000000"},
"encoding":{"x":{"field":"t","type":"quantitative","scale":{"domain":[-0.11,73.6],"nice":false,"zero":false},"axis":null},"y":{"field":"v","type":"quantitative","scale":{"domain":[109.09,127.42],"nice":false,"zero":false},"axis":null},"text":{"field":"s"}}},
{"data":{"values":[{}]},"mark":{"type":"rect","color":"#df5a5a","opacity":0.92},
"encoding":{"x":{"datum":2.21,"type":"quantitative","scale":{"domain":[-0.11,73.6],"nice":false,"zero":false},"axis":null},"x2":{"datum":33.73},"y":{"datum":110.25,"type":"quantitative","scale":{"domain":[109.09,127.42],"nice":false,"zero":false},"axis":null},"y2":{"datum":108.91}}},
{"data":{"name":"logoBig"},"mark":{"type":"text","align":"left","baseline":"alphabetic","font":"Liberation Sans","fontSize":22,"color":"#ffffff"},
"encoding":{"x":{"field":"t","type":"quantitative","scale":{"domain":[-0.11,73.6],"nice":false,"zero":false},"axis":null},"y":{"field":"v","type":"quantitative","scale":{"domain":[109.09,127.42],"nice":false,"zero":false},"axis":null},"text":{"field":"s"}}},
{"data":{"name":"logoSmall"},"mark":{"type":"text","align":"left","baseline":"alphabetic","font":"Liberation Sans","fontSize":15,"color":"#ffffff"},
"encoding":{"x":{"field":"t","type":"quantitative","scale":{"domain":[-0.11,73.6],"nice":false,"zero":false},"axis":null},"y":{"field":"v","type":"quantitative","scale":{"domain":[109.09,127.42],"nice":false,"zero":false},"axis":null},"text":{"field":"s"}}}
]},
{"width":594,"height":507,
"resolve":{"axis":{"x":"independent","y":"independent"}},
"layer":[
{"data":{"name":"dcl"},"mark":{"type":"rule","clip":true,"strokeDash":[2,2],"strokeWidth":1},
"encoding":{"x":{"field":"t","type":"quantitative","scale":{"domain":[-6.555,76.29],"nice":false,"zero":false},"axis":{"orient":"bottom","title":null,"values":[0,8,16,24,32,40,48,56],"labelExpr":"['2 Mar 2017','14 Mar 2017','24 Mar 2017','5 Apr 2017','17 Apr 2017','27 Apr 2017','9 May 2017','19 May 2017'][round(datum.value/8)]"}},
"y":{"field":"u","type":"quantitative","scale":{"domain":[112.77,127.98],"nice":false,"zero":false},"axis":{"orient":"right","title":null,"values":[127.40,126.50,125.60,124.70,123.80,122.90,121.10,120.20,119.30,118.40,117.50,116.60,115.70,114.80,113.90,113.00],"format":".2f"}},
"y2":{"field":"lo"},
"color":{"condition":{"test":"datum.k==='bull'","value":"#4343b8"},"value":"#dc6edc"}}},
{"data":{"values":[{}]},"mark":{"type":"rect","color":"#b3cce4"},
"encoding":{"x":{"datum":-7.95,"type":"quantitative","scale":{"domain":[-6.555,76.29],"nice":false,"zero":false},"axis":null},"x2":{"datum":-6.6},"y":{"datum":127.98,"type":"quantitative","scale":{"domain":[112.77,127.98],"nice":false,"zero":false},"axis":null},"y2":{"datum":112.2}}},
{"data":{"values":[{}]},"mark":{"type":"rect","color":"#fcebf1","clip":true},
"encoding":{"x":{"datum":-6.6,"type":"quantitative","scale":{"domain":[-6.555,76.29],"nice":false,"zero":false},"axis":null},"x2":{"datum":76.3},"y":{"datum":113.35,"type":"quantitative","scale":{"domain":[112.77,127.98],"nice":false,"zero":false},"axis":null},"y2":{"datum":112.86}}},
{"data":{"name":"ddash"},"mark":{"type":"line","clip":true,"strokeDash":[3,2],"strokeWidth":1,"color":"#7a7a7a"},
"encoding":{"x":{"field":"t","type":"quantitative","scale":{"domain":[-6.555,76.29],"nice":false,"zero":false},"axis":null},"y":{"field":"v","type":"quantitative","scale":{"domain":[112.77,127.98],"nice":false,"zero":false},"axis":null},"detail":{"field":"s"}}},
{"data":{"name":"dlev"},"mark":{"type":"rule"},
"encoding":{"y":{"field":"v","type":"quantitative","scale":{"domain":[112.77,127.98],"nice":false,"zero":false},"axis":null},
"color":{"condition":[{"test":"datum.k==='maroon'","value":"#7e2424"},{"test":"datum.k==='mthick'","value":"#8c5a6a"},{"test":"datum.k==='green'","value":"#2e7d2e"},{"test":"datum.k==='lav'","value":"#7474c4"}],"value":"#3434b4"},
"strokeWidth":{"condition":{"test":"datum.k==='lav' || datum.k==='mthick'","value":2.5},"value":1.2}}},
{"data":{"name":"dseg"},"mark":{"type":"rule","strokeWidth":1,"color":"#22225e"},
"encoding":{"x":{"field":"t1","type":"quantitative","scale":{"domain":[-6.555,76.29],"nice":false,"zero":false},"axis":null},"x2":{"field":"t2"},"y":{"field":"v","type":"quantitative","scale":{"domain":[112.77,127.98],"nice":false,"zero":false},"axis":null}}},
{"data":{"name":"dred"},"mark":{"type":"rule","strokeWidth":1,"strokeDash":[3,3],"color":"#e03c4a"},
"encoding":{"x":{"field":"t1","type":"quantitative","scale":{"domain":[-6.555,76.29],"nice":false,"zero":false},"axis":null},"x2":{"field":"t2"},"y":{"field":"v1","type":"quantitative","scale":{"domain":[112.77,127.98],"nice":false,"zero":false},"axis":null},"y2":{"field":"v2"}}},
{"data":{"name":"dtr"},"mark":{"type":"rule","clip":true,"strokeWidth":1.2},
"encoding":{"x":{"field":"t1","type":"quantitative","scale":{"domain":[-6.555,76.29],"nice":false,"zero":false},"axis":null},"x2":{"field":"t2"},"y":{"field":"v1","type":"quantitative","scale":{"domain":[112.77,127.98],"nice":false,"zero":false},"axis":null},"y2":{"field":"v2"},
"color":{"condition":{"test":"datum.k==='blue'","value":"#4a4ac8"},"value":"#a060c8"}}},
{"data":{"name":"dchi"},"mark":{"type":"line","clip":true,"strokeWidth":1,"color":"#a8a8a8"},
"encoding":{"x":{"field":"t","type":"quantitative","scale":{"domain":[-6.555,76.29],"nice":false,"zero":false},"axis":null},"y":{"field":"v","type":"quantitative","scale":{"domain":[112.77,127.98],"nice":false,"zero":false},"axis":null}}},
{"data":{"name":"dkij"},"mark":{"type":"line","clip":true,"strokeWidth":2,"color":"#1f7a1f"},
"encoding":{"x":{"field":"t","type":"quantitative","scale":{"domain":[-6.555,76.29],"nice":false,"zero":false},"axis":null},"y":{"field":"v","type":"quantitative","scale":{"domain":[112.77,127.98],"nice":false,"zero":false},"axis":null}}},
{"data":{"name":"dten"},"mark":{"type":"line","clip":true,"strokeWidth":2,"color":"#e8141e"},
"encoding":{"x":{"field":"t","type":"quantitative","scale":{"domain":[-6.555,76.29],"nice":false,"zero":false},"axis":null},"y":{"field":"v","type":"quantitative","scale":{"domain":[112.77,127.98],"nice":false,"zero":false},"axis":null}}},
{"data":{"name":"dk"},"mark":{"type":"rule","clip":true,"strokeWidth":1,"color":"#000000"},
"encoding":{"x":{"field":"t","type":"quantitative","scale":{"domain":[-6.555,76.29],"nice":false,"zero":false},"axis":null},"y":{"field":"l","type":"quantitative","scale":{"domain":[112.77,127.98],"nice":false,"zero":false},"axis":null},"y2":{"field":"h"}}},
{"data":{"name":"dk"},"mark":{"type":"bar","clip":true,"size":5,"stroke":"#000000","strokeWidth":1},
"encoding":{"x":{"field":"t","type":"quantitative","scale":{"domain":[-6.555,76.29],"nice":false,"zero":false},"axis":null},"y":{"field":"o","type":"quantitative","scale":{"domain":[112.77,127.98],"nice":false,"zero":false},"axis":null},"y2":{"field":"c"},
"fill":{"condition":{"test":"datum.c >= datum.o","value":"#ffffff"},"value":"#000000"}}},
{"data":{"name":"dsmall"},"mark":{"type":"text","align":"right","baseline":"middle","font":"Liberation Sans","fontSize":8.5,"color":"#3a3a8a"},
"encoding":{"x":{"field":"t","type":"quantitative","scale":{"domain":[-6.555,76.29],"nice":false,"zero":false},"axis":null},"y":{"field":"v","type":"quantitative","scale":{"domain":[112.77,127.98],"nice":false,"zero":false},"axis":null},"text":{"field":"s"}}},
{"data":{"name":"dbig"},"mark":{"type":"text","align":"center","baseline":"middle","font":"Liberation Serif","fontWeight":"bold","fontSize":20,"color":"#15153f"},
"encoding":{"x":{"field":"t","type":"quantitative","scale":{"domain":[-6.555,76.29],"nice":false,"zero":false},"axis":null},"y":{"field":"v","type":"quantitative","scale":{"domain":[112.77,127.98],"nice":false,"zero":false},"axis":null},"text":{"field":"s"}}},
{"data":{"name":"dlab"},"mark":{"type":"bar","orient":"horizontal","size":10},
"encoding":{"x":{"datum":76.57,"type":"quantitative","scale":{"domain":[-6.555,76.29],"nice":false,"zero":false},"axis":null},"x2":{"datum":80.6},"y":{"field":"v","type":"quantitative","scale":{"domain":[112.77,127.98],"nice":false,"zero":false},"axis":null},
"fill":{"condition":[{"test":"datum.k==='blue'","value":"#1616e0"},{"test":"datum.k==='maroon'","value":"#8b0000"},{"test":"datum.k==='green'","value":"#148c14"}],"value":"#000000"}}},
{"data":{"name":"dlab"},"mark":{"type":"text","align":"left","baseline":"middle","font":"Liberation Sans","fontSize":8.5,"color":"#ffffff"},
"encoding":{"x":{"datum":76.85,"type":"quantitative","scale":{"domain":[-6.555,76.29],"nice":false,"zero":false},"axis":null},"y":{"field":"v","type":"quantitative","scale":{"domain":[112.77,127.98],"nice":false,"zero":false},"axis":null},"text":{"field":"s"}}},
{"data":{"name":"dtitle"},"mark":{"type":"text","align":"left","baseline":"middle","font":"Liberation Sans","fontSize":9,"color":"#000000"},
"encoding":{"x":{"field":"t","type":"quantitative","scale":{"domain":[-6.555,76.29],"nice":false,"zero":false},"axis":null},"y":{"field":"v","type":"quantitative","scale":{"domain":[112.77,127.98],"nice":false,"zero":false},"axis":null},"text":{"field":"s"}}},
{"data":{"name":"dfeb"},"mark":{"type":"text","align":"left","baseline":"middle","font":"Liberation Sans","fontSize":8.5,"color":"#000000"},
"encoding":{"x":{"field":"t","type":"quantitative","scale":{"domain":[-6.555,76.29],"nice":false,"zero":false},"axis":null},"y":{"field":"v","type":"quantitative","scale":{"domain":[112.77,127.98],"nice":false,"zero":false},"axis":null},"text":{"field":"s"}}}
]}
]
}
